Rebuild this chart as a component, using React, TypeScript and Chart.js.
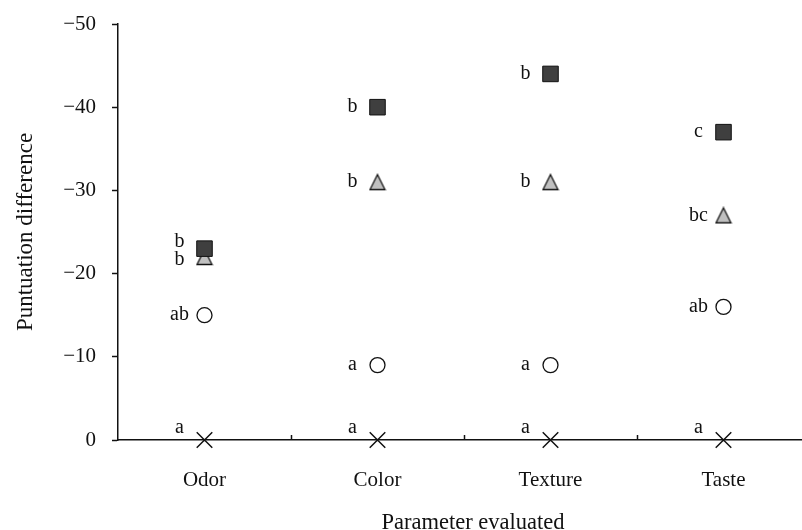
import React, { useEffect, useRef } from "react";
import { Chart, registerables } from "chart.js";

Chart.register(...registerables);

const categories = ["Odor", "Color", "Texture", "Taste"];
const squareValues = [-23, -40, -44, -37];
const triangleValues = [-22, -31, -31, -27];
const circleValues = [-15, -9, -9, -16];
const crossValues = [0, 0, 0, 0];
const squareLabels = ["b", "b", "b", "c"];
const triangleLabels = ["b", "b", "b", "bc"];
const circleLabels = ["ab", "a", "a", "ab"];
const crossLabels = ["a", "a", "a", "a"];
const yTicks = [0, -10, -20, -30, -40, -50];
const yTitle = "Puntuation difference";
const xTitle = "Parameter evaluated";

const FONT = "'Liberation Serif', 'Times New Roman', serif";
const INK = "#111111";

function makeTriangle(): HTMLCanvasElement {
  const c = document.createElement("canvas");
  c.width = 18;
  c.height = 18;
  const ctx = c.getContext("2d")!;
  ctx.beginPath();
  ctx.moveTo(9, 1.5);
  ctx.lineTo(16.5, 16.5);
  ctx.lineTo(1.5, 16.5);
  ctx.closePath();
  ctx.fillStyle = "#c0c0c0";
  ctx.fill();
  ctx.lineWidth = 1.3;
  ctx.strokeStyle = INK;
  ctx.stroke();
  return c;
}

export default function App() {
  const ref = useRef<HTMLCanvasElement | null>(null);

  useEffect(() => {
    document.documentElement.style.overflow = "hidden";
    document.body.style.margin = "0";
    document.body.style.overflow = "hidden";
    const canvas = ref.current!;
    const tri = makeTriangle();

    const labelSets: { labels: string[]; dy: number[] }[] = [
      { labels: squareLabels, dy: [-7, 0, 0, 0] },
      { labels: triangleLabels, dy: [3, 0, 0, 0] },
      { labels: circleLabels, dy: [0, 0, 0, 0] },
      { labels: crossLabels, dy: [-12, -12, -12, -12] },
    ];

    const annot = {
      id: "annot",
      afterDraw(chart: any) {
        const ctx = chart.ctx;
        const area = chart.chartArea;
        const xs = chart.scales.x;
        ctx.save();
        ctx.strokeStyle = INK;
        ctx.lineWidth = 1.5;
        for (let i = 0; i < categories.length - 1; i++) {
          const px = Math.round((xs.getPixelForValue(i) + xs.getPixelForValue(i + 1)) / 2) + 0.5;
          ctx.beginPath();
          ctx.moveTo(px, area.bottom);
          ctx.lineTo(px, area.bottom - 5);
          ctx.stroke();
        }
        ctx.fillStyle = INK;
        ctx.font = `20px ${FONT}`;
        ctx.textAlign = "center";
        ctx.textBaseline = "middle";
        labelSets.forEach((set, di) => {
          const meta = chart.getDatasetMeta(di);
          meta.data.forEach((pt: any, i: number) => {
            ctx.fillText(set.labels[i], pt.x - 25, pt.y + set.dy[i]);
          });
        });
        ctx.textBaseline = "alphabetic";
        ctx.font = `22.5px ${FONT}`;
        ctx.fillText(xTitle, (area.left + area.right) / 2 + 9, 529);
        ctx.font = `23px ${FONT}`;
        ctx.translate(32, (area.top + area.bottom) / 2);
        ctx.rotate(-Math.PI / 2);
        ctx.fillText(yTitle, 0, 0);
        ctx.restore();
      },
    };

    const chart = new Chart(canvas, {
      type: "line",
      data: {
        labels: categories,
        datasets: [
          {
            data: squareValues,
            showLine: false,
            clip: false as any,
            pointStyle: "rect",
            pointRadius: 11,
            pointBackgroundColor: "#3f3f3f",
            pointBorderColor: INK,
            pointBorderWidth: 1,
            order: 0,
          },
          {
            data: triangleValues,
            showLine: false,
            clip: false as any,
            pointStyle: tri as any,
            pointRadius: 9,
            order: 1,
          },
          {
            data: circleValues,
            showLine: false,
            clip: false as any,
            pointStyle: "circle",
            pointRadius: 7.5,
            pointBackgroundColor: "#ffffff",
            pointBorderColor: INK,
            pointBorderWidth: 1.3,
            order: 2,
          },
          {
            data: crossValues,
            showLine: false,
            clip: false as any,
            pointStyle: "crossRot",
            pointRadius: 11,
            pointBorderColor: INK,
            pointBorderWidth: 1.5,
            order: 3,
          },
        ],
      },
      options: {
        responsive: false,
        animation: false,
        events: [],
        layout: { autoPadding: false, padding: { top: 24, left: 0, right: 0, bottom: 0 } },
        plugins: { legend: { display: false }, tooltip: { enabled: false } },
        scales: {
          x: {
            type: "category",
            offset: true,
            grid: { display: false, offset: true },
            border: { display: true, color: INK, width: 1.5 },
            ticks: { color: INK, font: { family: FONT, size: 21 }, padding: 20 },
            afterFit: (s: any) => {
              s.height = 90;
              s.paddingLeft = 0;
              s.paddingRight = 0;
            },
          },
          y: {
            type: "linear",
            reverse: true,
            min: -50,
            max: 0,
            afterBuildTicks: (s: any) => {
              s.ticks = yTicks.map((v) => ({ value: v }));
            },
            grid: {
              drawOnChartArea: false,
              drawTicks: true,
              tickLength: 6,
              tickWidth: 1.5,
              tickColor: INK,
            },
            border: { display: true, color: INK, width: 1.5 },
            ticks: {
              color: INK,
              padding: 16,
              font: { family: FONT, size: 21 },
              callback: (v: any) => (Number(v) < 0 ? "\u2212" + Math.abs(Number(v)) : String(v)),
            },
            afterFit: (s: any) => {
              s.width = 118;
              s.paddingTop = 0;
              s.paddingBottom = 0;
            },
          },
        },
      },
      plugins: [annot],
    });
    return () => chart.destroy();
  }, []);

  return (
    <div style={{ position: "absolute", left: 0, top: 0, width: 802, height: 530, overflow: "hidden" }}>
      <canvas ref={ref} width={810} height={530} style={{ width: 810, height: 530, display: "block" }} />
    </div>
  );
}
